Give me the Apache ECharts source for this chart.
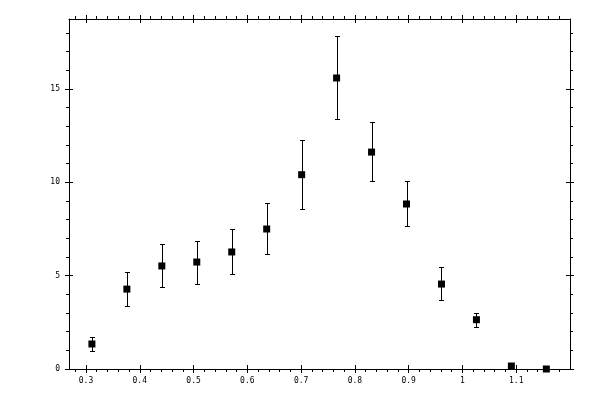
<!DOCTYPE html>
<html>
<head>
<meta charset="utf-8">
<script src="https://cdn.jsdelivr.net/npm/echarts@6/dist/echarts.min.js"></script>
<style>
html,body{margin:0;padding:0;background:#fff;}
#chart{width:600px;height:400px;}
</style>
</head>
<body>
<div id="chart"></div>
<script>
// Data
const xValues = [0.311, 0.376, 0.441, 0.506, 0.571, 0.636, 0.701, 0.766, 0.831, 0.896, 0.961, 1.026, 1.091, 1.156];
const yValues = [1.34, 4.28, 5.52, 5.73, 6.27, 7.50, 10.41, 15.59, 11.62, 8.84, 4.55, 2.64, 0.16, 0.0];
const yLow    = [0.94, 3.37, 4.39, 4.55, 5.09, 6.18, 8.57, 13.41, 10.07, 7.68, 3.71, 2.25, null, null];
const yHigh   = [1.73, 5.21, 6.71, 6.86, 7.50, 8.89, 12.27, 17.84, 13.23, 10.07, 5.46, 3.00, null, null];

// Axis ranges and tick labels
const xMin = 0.2684, xMax = 1.2;
const yMin = 0, yMax = 18.75;
const xTicks = [0.3, 0.4, 0.5, 0.6, 0.7, 0.8, 0.9, 1.0, 1.1];
const yTicks = [0, 5, 10, 15];

const chart = echarts.init(document.getElementById('chart'), null, {renderer: 'canvas'});

const labelFont = {fontFamily: 'DejaVu Sans Mono', fontSize: 8, color: '#000'};

function xAxisDef(position, inside, showLine, showLabel) {
  return {
    type: 'value', position: position, min: xMin, max: xMax, splitNumber: 9,
    axisLine: {show: showLine, onZero: false, lineStyle: {color: '#000', width: 1}},
    axisTick: {show: true, inside: inside, length: 4, customValues: xTicks, lineStyle: {color: '#000', width: 1}},
    minorTick: {show: !inside, splitNumber: 5, length: 3, lineStyle: {color: '#000', width: 1}},
    axisLabel: Object.assign({show: showLabel, margin: 8, customValues: xTicks}, labelFont),
    splitLine: {show: false}
  };
}
function yAxisDef(position, inside, showLine, showLabel) {
  return {
    type: 'value', position: position, min: yMin, max: yMax, splitNumber: 4,
    axisLine: {show: showLine, onZero: false, lineStyle: {color: '#000', width: 1}},
    axisTick: {show: true, inside: inside, length: 4, customValues: yTicks, lineStyle: {color: '#000', width: 1}},
    minorTick: {show: !inside, splitNumber: 5, length: 3, lineStyle: {color: '#000', width: 1}},
    axisLabel: Object.assign({show: showLabel, margin: 9, customValues: yTicks}, labelFont),
    splitLine: {show: false}
  };
}

const errData = [];
for (let i = 0; i < xValues.length; i++) {
  if (yLow[i] != null && yHigh[i] != null) errData.push([xValues[i], yLow[i], yHigh[i]]);
}
const pointData = xValues.map((x, i) => [x, yValues[i]]);

chart.setOption({
  backgroundColor: '#fff',
  animation: false,
  grid: {left: 69, right: 30, top: 19, bottom: 31, containLabel: false},
  xAxis: [
    xAxisDef('bottom', false, true, true),
    xAxisDef('bottom', true, false, false),
    xAxisDef('top', false, true, false),
    xAxisDef('top', true, false, false)
  ],
  yAxis: [
    yAxisDef('left', false, true, true),
    yAxisDef('left', true, false, false),
    yAxisDef('right', false, true, false),
    yAxisDef('right', true, false, false)
  ],
  series: [
    {
      type: 'custom',
      xAxisIndex: 0, yAxisIndex: 0,
      data: errData,
      clip: false,
      renderItem: function (params, api) {
        const x = api.value(0);
        const pLo = api.coord([x, api.value(1)]);
        const pHi = api.coord([x, api.value(2)]);
        const cx = Math.round(pLo[0]) + 0.5;
        const yHi = Math.round(pHi[1]) + 0.5;
        const yLo = Math.round(pLo[1]) + 0.5;
        const w = 2.5;
        const st = {stroke: '#000', lineWidth: 1};
        return {
          type: 'group',
          children: [
            {type: 'line', shape: {x1: cx, y1: yHi, x2: cx, y2: yLo}, style: st},
            {type: 'line', shape: {x1: cx - w, y1: yHi, x2: cx + w, y2: yHi}, style: st},
            {type: 'line', shape: {x1: cx - w, y1: yLo, x2: cx + w, y2: yLo}, style: st}
          ]
        };
      },
      z: 2
    },
    {
      type: 'scatter',
      xAxisIndex: 0, yAxisIndex: 0,
      data: pointData,
      symbol: 'rect',
      symbolSize: 7,
      clip: false,
      itemStyle: {color: '#000', opacity: 1},
      emphasis: {disabled: true},
      z: 3
    }
  ]
});
</script>
</body>
</html>
